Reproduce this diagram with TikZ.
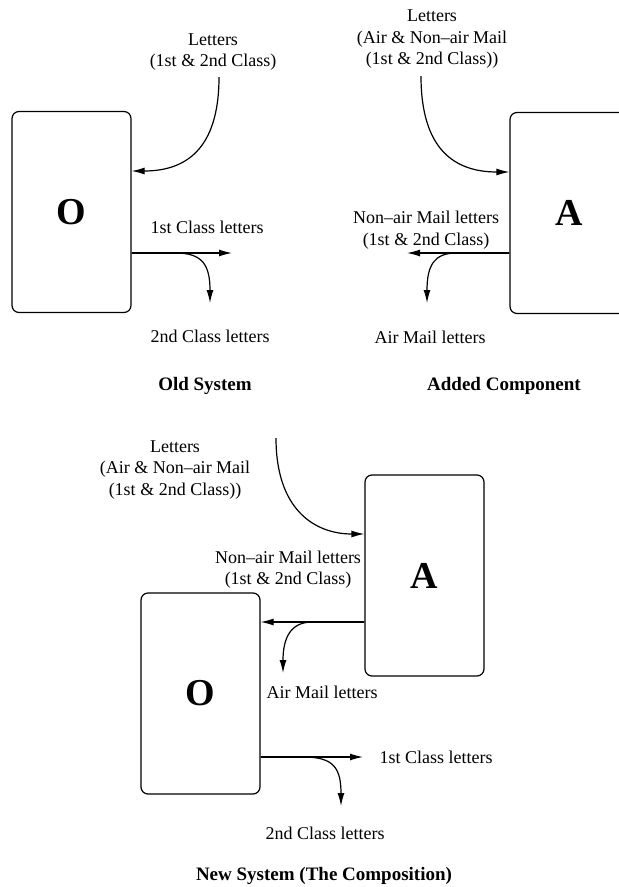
\documentclass[tikz,border=0pt]{standalone}
\usepackage{fontspec}
\setmainfont{Liberation Serif}
\usetikzlibrary{positioning, arrows.meta, calc}

\begin{document}
\begin{tikzpicture}[
    x=1pt, y=-1pt,
    component/.style={
      draw,
      line width=1.2pt,
      rounded corners=7pt,
      minimum width=119pt,
      minimum height=201pt,
      font=\fontsize{38}{40}\selectfont\bfseries
    },
    flowlabel/.style={
      align=center,
      inner sep=0pt,
      font=\fontsize{18}{21.5}\selectfont
    },
    caption/.style={
      inner sep=0pt,
      font=\fontsize{19}{22}\selectfont\bfseries
    },
    flow/.style={
      line width=1.2pt,
      -{Latex[length=13pt,width=7pt]}
    }
  ]
  \useasboundingbox (0,0) rectangle (619,887);

  % old system
  \node[component] (oldbox) at (71.5,212) {O};
  \coordinate (oldin) at (219,77);
  \coordinate (oldfirst) at (232,253);
  \coordinate (oldsecond) at (210,303);

  \draw[flow] (oldin) .. controls (219,150) and (185,171) .. ([yshift=41pt]oldbox.east);
  \draw[flow] ([yshift=-41pt]oldbox.east) -- (oldfirst);
  \draw[flow] ([yshift=-41pt]oldbox.east) -- ++(44,0)
    .. controls +(27,0) and +(0,-38) .. (oldsecond);

  \node[flowlabel] (oldinlabel) at (213,52) {Letters\\(1st \& 2nd Class)};
  \node[flowlabel] (oldfirstlabel) at (207,227) {1st Class letters};
  \node[flowlabel] (oldsecondlabel) at (210,336) {2nd Class letters};
  \node[caption] (oldcaption) at (205,386) {Old System};

  % added component
  \node[component] (addbox) at (569.5,213) {A};
  \coordinate (addin) at (421,76);
  \coordinate (addnonair) at (407,253);
  \coordinate (addair) at (427,303);

  \draw[flow] (addin) .. controls (421,150) and (455,172) .. ([yshift=41pt]addbox.west);
  \draw[flow] ([yshift=-40pt]addbox.west) -- (addnonair);
  \draw[flow] ([yshift=-40pt]addbox.west) -- ++(-53,0)
    .. controls +(-22,0) and +(0,-38) .. (addair);

  \node[flowlabel] (addinlabel) at (432,39.5) {Letters\\(Air \& Non--air Mail\\(1st \& 2nd Class))};
  \node[flowlabel] (addnonairlabel) at (426,230) {Non--air Mail letters\\(1st \& 2nd Class)};
  \node[flowlabel] (addairlabel) at (430,337) {Air Mail letters};
  \node[caption] (addcaption) at (504,386) {Added Component};

  % new system
  \node[component] (newaddbox) at (424.5,575.5) {A};
  \node[component] (newoldbox) at (200.5,693.5) {O};
  \coordinate (newin) at (276,438);
  \coordinate (newair) at (283,673);
  \coordinate (newfirst) at (363,757);
  \coordinate (newsecond) at (341,806);

  \draw[flow] (newin) .. controls (276,510) and (315,534) .. ([yshift=41.5pt]newaddbox.west);
  \draw[flow] ([yshift=-46.5pt]newaddbox.west) -- ([yshift=71.5pt]newoldbox.east);
  \draw[flow] ([yshift=-46.5pt]newaddbox.west) -- ++(-52,0)
    .. controls +(-22,0) and +(0,-35) .. (newair);
  \draw[flow] ([yshift=-63.5pt]newoldbox.east) -- (newfirst);
  \draw[flow] ([yshift=-63.5pt]newoldbox.east) -- ++(43,0)
    .. controls +(30,0) and +(0,-38) .. (newsecond);

  \node[flowlabel] (newinlabel) at (175,470) {Letters\\(Air \& Non--air Mail\\(1st \& 2nd Class))};
  \node[flowlabel] (newnonairlabel) at (288,569.5) {Non--air Mail letters\\(1st \& 2nd Class)};
  \node[flowlabel] (newairlabel) at (322,692) {Air Mail letters};
  \node[flowlabel] (newfirstlabel) at (436,757) {1st Class letters};
  \node[flowlabel] (newsecondlabel) at (325,833) {2nd Class letters};
  \node[caption] (newcaption) at (324,876) {New System (The Composition)};
\end{tikzpicture}
\end{document}
